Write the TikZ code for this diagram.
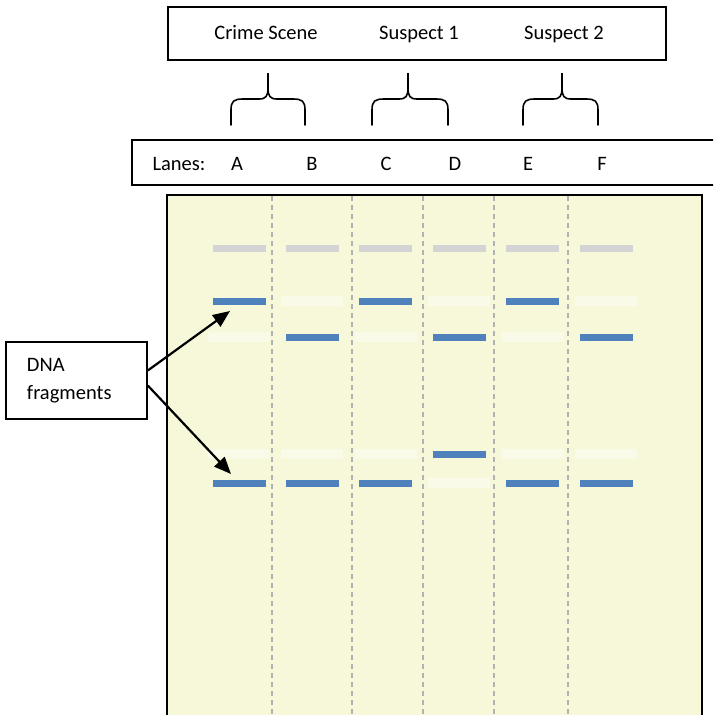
\documentclass[tikz,border=0pt]{standalone}
\usepackage{fontspec}
\setmainfont{Carlito}
\usetikzlibrary{positioning}
\usetikzlibrary{arrows.meta}
\definecolor{gel_color}{RGB}{247, 248, 218}
\definecolor{band_color}{RGB}{79, 129, 189}
\definecolor{ladder_color}{RGB}{212, 212, 212}
\definecolor{faint_color}{RGB}{250, 250, 232}

\begin{document}
\begin{tikzpicture}[
    x=1pt, y=-1pt,
    font=\fontsize{20.5}{28}\selectfont,
    label/.style={anchor=base, inner sep=0pt},
    frame/.style={draw, line width=1.6pt},
    band/.style={fill=band_color, minimum width=53pt, minimum height=7pt,
                 inner sep=0pt},
    ladder/.style={band, fill=ladder_color},
    faint/.style={fill=faint_color, minimum width=62pt, minimum height=10pt,
                  inner sep=0pt},
    brace/.style={line width=1.6pt, line cap=round},
    >={Triangle[length=17pt, width=14pt]}]
    \clip (0,0) rectangle (713,715);
    % sample names
    \node[frame, minimum width=498pt, minimum height=53pt] (samples)
      at (417,33.5) {};
    \node[label] (crime) at (266,39) {Crime Scene};
    \node[label] (susp1) at (419,39) {Suspect 1};
    \node[label] (susp2) at (564,39) {Suspect 2};
    % braces
    \foreach \l/\t/\r in {231/268/305, 372/408/448, 523/562/598}
      \draw[brace] (\l,125) -- (\l,110) .. controls (\l,101) and (\l+3,99) .. (\l+12,99)
        -- (\t-9,99) .. controls (\t-2,99) and (\t,96) .. (\t,88) -- (\t,73)
        -- (\t,88) .. controls (\t,96) and (\t+2,99) .. (\t+9,99)
        -- (\r-12,99) .. controls (\r-3,99) and (\r,101) .. (\r,110) -- (\r,125);
    % lanes bar
    \node[frame, minimum width=620pt, minimum height=45pt, anchor=north west]
      (lanes) at (131,139) {};
    \node[label] (lanestxt) at (179,170) {Lanes:};
    \foreach \n/\x in {A/237, B/312, C/386, D/455, E/528, F/602}
      \node[label] (lane\n) at (\x,170) {\n};
    % gel
    \draw[fill=gel_color, line width=2.2pt] (167,195) rectangle (702,740);
    \foreach \x in {272, 352, 423, 494, 568}
      \draw[gray!60, line width=1.2pt, dash pattern=on 5pt off 4pt]
        (\x,196) -- (\x,715);
    % faint empty positions
    \foreach \i/\y in {1/301, 3/301, 5/301, 0/337, 2/337, 4/337,
                       0/454, 1/454, 2/454, 4/454, 5/454, 3/483}
      \node[faint] at (239+73.4*\i,\y) {};
    % ladder row
    \foreach \i in {0,...,5}
      \node[ladder] (ladder\i) at (239+73.4*\i,248) {};
    % DNA bands
    \foreach \n/\i/\y in {A1/0/301, C1/2/301, E1/4/301,
                          B2/1/337, D2/3/337, F2/5/337,
                          D3/3/454,
                          A4/0/483, B4/1/483, C4/2/483, E4/4/483, F4/5/483}
      \node[band] (band\n) at (239+73.4*\i,\y) {};
    % callout
    \node[frame, minimum width=141pt, minimum height=77pt, text width=99pt,
          align=left] (dna) at (76.5,380.5) {DNA\\fragments};
    \coordinate (tip1) at (230,311);
    \coordinate (tip2) at (231,474);
    \draw[->, line width=2.2pt] ([yshift=10pt]dna.east) -- (tip1);
    \draw[->, line width=2.2pt] ([yshift=-5pt]dna.east) -- (tip2);
  \end{tikzpicture}
\end{document}
